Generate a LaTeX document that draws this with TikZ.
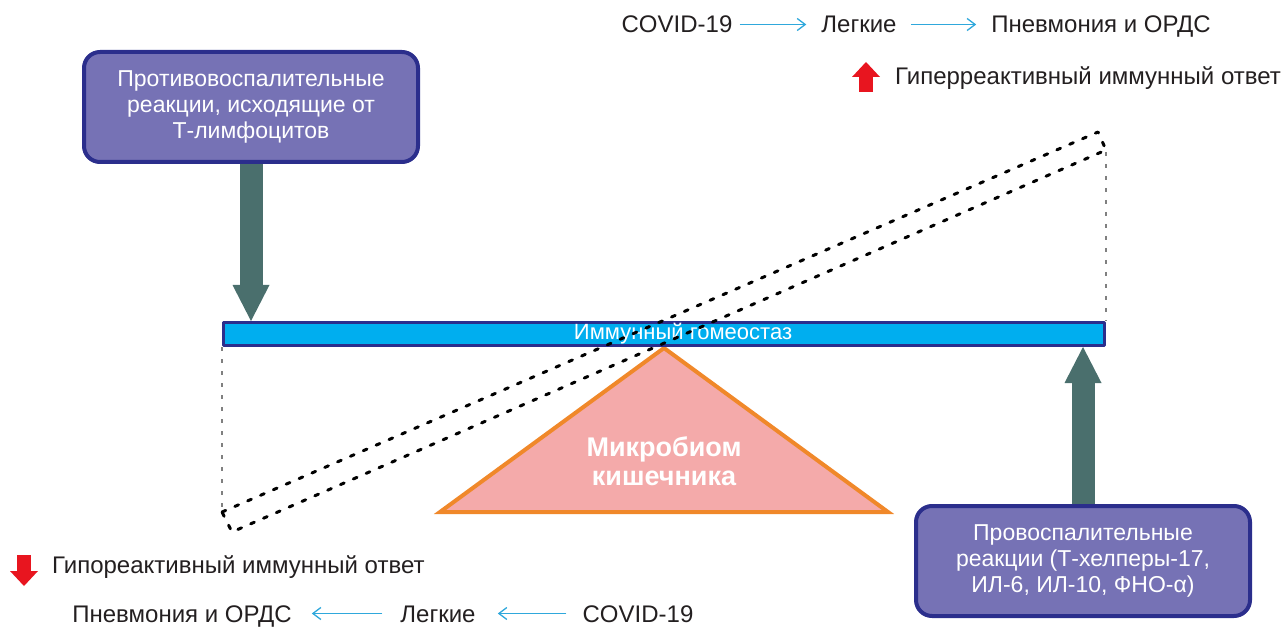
\documentclass[tikz,border=0pt]{standalone}
\usepackage{fontspec}
\setmainfont{Liberation Sans}
\usetikzlibrary{arrows.meta}
\definecolor{boxfill}{HTML}{7672B5}
\definecolor{boxline}{HTML}{2B2E8C}
\definecolor{barfill}{HTML}{00AEEF}
\definecolor{trifill}{HTML}{F4AAAA}
\definecolor{triline}{HTML}{F0882A}
\definecolor{pushgray}{HTML}{4A6F6D}
\definecolor{flowblue}{HTML}{2FA8DC}
\definecolor{alertred}{HTML}{E8151F}
\definecolor{labelgray}{HTML}{231F20}
\begin{document}
\begin{tikzpicture}[x=1pt,y=-1pt,line join=round,
  lbl/.style={inner sep=0pt,text height=17pt,text depth=0pt,text=labelgray,font=\fontsize{24}{27}\selectfont},
  box/.style={draw=boxline,line width=4pt,fill=boxfill,rounded corners=16pt,minimum width=334pt,minimum height=110pt,align=center,text=white,font=\fontsize{23}{26}\selectfont},
  push/.style={draw=pushgray,line width=23pt,-{Triangle[width=37pt,length=36pt,line width=0pt]}},
  flow/.style={draw=flowblue,line width=1.3pt,-{Straight Barb[length=8pt,width=12pt]}},
  alert/.style={draw=alertred,line width=14pt,-{Triangle[width=28pt,length=15pt,line width=0pt]}},
  tilt/.style={black,line width=3pt,dash pattern=on 4pt off 10pt,line cap=round},
  drop/.style={gray,line width=2.5pt,dash pattern=on 4pt off 8pt}]
  \useasboundingbox (0,0) rectangle (1282,628);
  % the balance
  \draw[draw=triline,fill=trifill,line width=4pt,line join=miter] (664,348) -- (888,512) -- (440,512) -- cycle;
  \node[text=white,font=\bfseries\fontsize{27}{29}\selectfont,align=center] (gut) at (664,461) {Микробиом\\кишечника};
  \node[draw=boxline,line width=3pt,fill=barfill,minimum width=881pt,minimum height=23pt,inner sep=0pt] (bar) at (664,334) {};
  \node[text=white,font=\fontsize{22}{22}\selectfont] (barlbl) at (683,334) {Иммунный гомеостаз};
  % the two pushes
  \node[box] (antiinf) at (251,107) {Противовоспалительные\\реакции, исходящие от\\Т-лимфоцитов};
  \node[box] (proinf) at (1083,561) {Провоспалительные\\реакции (Т-хелперы-17,\\ИЛ-6, ИЛ-10, ФНО-α)};
  \draw[push] (antiinf.south) -- (antiinf.south |- bar.north);
  \draw[push] (proinf.north) -- (proinf.north |- bar.south);
  % tilted bar
  \draw[drop] (bar.south west) -- (222,510);
  \draw[drop] (1106,152) -- (bar.north east);
  \draw[tilt] (222,512) -- (1098,132) -- (1106,150) -- (232,532) -- cycle;
  % legend
  \node[lbl,anchor=base] (covid1) at (677,33) {COVID-19};
  \node[lbl,anchor=base] (lung1) at (859,33) {Легкие};
  \node[lbl,anchor=base] (pneum1) at (1101,33) {Пневмония и ОРДС};
  \draw[flow,shorten <=7pt,shorten >=15pt] (covid1) -- (lung1);
  \draw[flow,shorten <=14pt,shorten >=15pt] (lung1) -- (pneum1);
  \draw[alert] (866,92) -- (866,62);
  \node[lbl,anchor=base west] (hyper) at (895,85) {Гиперреактивный иммунный ответ};
  \draw[alert] (24,555) -- (24,586);
  \node[lbl,anchor=base west] (hypo) at (52,573) {Гипореактивный иммунный ответ};
  \node[lbl,anchor=base] (pneum2) at (182,622) {Пневмония и ОРДС};
  \node[lbl,anchor=base] (lung2) at (438,622) {Легкие};
  \node[lbl,anchor=base] (covid2) at (638,622) {COVID-19};
  \draw[flow,shorten <=16pt,shorten >=22pt] (covid2) -- (lung2);
  \draw[flow,shorten <=18pt,shorten >=20pt] (lung2) -- (pneum2);
\end{tikzpicture}
\end{document}
